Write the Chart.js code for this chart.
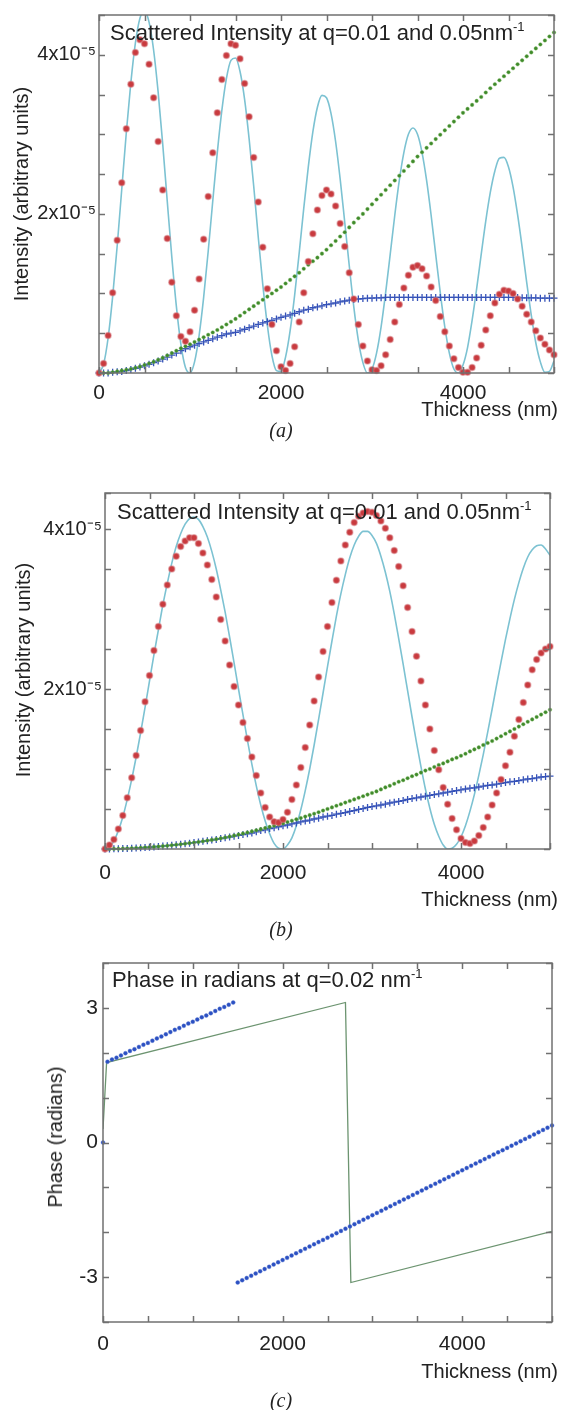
<!DOCTYPE html>
<html>
<head>
<meta charset="utf-8">
<script src="https://cdn.jsdelivr.net/npm/chart.js@4.4.0/dist/chart.umd.min.js"></script>
<style>
  body { margin: 0; background: #fff; width: 562px; height: 1410px; position: relative; overflow: hidden;
         font-family: "Liberation Sans", Arial, sans-serif; color: #222; }
  canvas { position: absolute; left: 0; }
  .t { position: absolute; white-space: nowrap; line-height: 1; }
  .title { font-size: 22px; }
  .title sup { font-size: 13px; vertical-align: 9px; line-height: 0; }
  .xt { font-size: 20px; right: 4px; }
  .yt { font-size: 20px; transform: translate(-50%, -50%) rotate(-90deg); }
  .cap { font-family: "Liberation Serif", "Times New Roman", serif; font-style: italic; font-size: 20px;
         transform: translateX(-50%); }
</style>
</head>
<body>
<canvas id="chartA" width="562" height="440" style="top:0"></canvas>
<canvas id="chartB" width="562" height="480" style="top:460px"></canvas>
<canvas id="chartC" width="562" height="470" style="top:940px"></canvas>

<div class="t title" style="left:110px;top:22px">Scattered Intensity at q=0.01 and 0.05nm<sup>-1</sup></div>
<div class="t yt" style="left:21px;top:194px">Intensity (arbitrary units)</div>
<div class="t xt" style="top:399px">Thickness (nm)</div>
<div class="t cap" style="left:281px;top:420px">(a)</div>

<div class="t title" style="left:117px;top:501px">Scattered Intensity at q=0.01 and 0.05nm<sup>-1</sup></div>
<div class="t yt" style="left:23px;top:670px">Intensity (arbitrary units)</div>
<div class="t xt" style="top:889px">Thickness (nm)</div>
<div class="t cap" style="left:281px;top:919px">(b)</div>

<div class="t title" style="left:112px;top:969px">Phase in radians at q=0.02 nm<sup>-1</sup></div>
<div class="t yt" style="left:55px;top:1137px">Phase (radians)</div>
<div class="t xt" style="top:1361px">Thickness (nm)</div>
<div class="t cap" style="left:281px;top:1390px">(c)</div>

<script>
// thickness in nm, one sample every 50 nm
const thickness = [0,50,100,150,200,250,300,350,400,450,500,550,600,650,700,750,800,850,900,950,
  1000,1050,1100,1150,1200,1250,1300,1350,1400,1450,1500,1550,1600,1650,1700,1750,1800,1850,1900,1950,
  2000,2050,2100,2150,2200,2250,2300,2350,2400,2450,2500,2550,2600,2650,2700,2750,2800,2850,2900,2950,
  3000,3050,3100,3150,3200,3250,3300,3350,3400,3450,3500,3550,3600,3650,3700,3750,3800,3850,3900,3950,
  4000,4050,4100,4150,4200,4250,4300,4350,4400,4450,4500,4550,4600,4650,4700,4750,4800,4850,4900,4950,5000];

// intensities in units of 1e-5
const cyanA = [0,0.11,0.44,0.96,1.60,2.31,3.02,3.65,4.15,4.46,
  4.55,4.41,4.06,3.53,2.88,2.16,1.46,0.84,0.36,0.07,
  0.00,0.14,0.47,0.95,1.53,2.16,2.77,3.30,3.70,3.93,
  3.96,3.79,3.44,2.94,2.35,1.71,1.11,0.60,0.22,0.03,
  0.02,0.20,0.53,0.98,1.51,2.07,2.59,3.03,3.34,3.49,
  3.46,3.26,2.91,2.44,1.90,1.35,0.83,0.41,0.13,0.00,
  0.05,0.25,0.58,1.01,1.49,1.98,2.42,2.77,3.00,3.08,
  3.00,2.77,2.42,1.98,1.49,1.01,0.58,0.25,0.05,0.00,
  0.10,0.32,0.66,1.06,1.49,1.91,2.27,2.54,2.70,2.71,
  2.59,2.34,1.99,1.58,1.14,0.73,0.38,0.14,0.01,0.02,0.15];
const redA = [0,0.12,0.47,1.01,1.67,2.39,3.07,3.63,4.03,4.19,
  4.14,3.88,3.46,2.91,2.30,1.69,1.14,0.72,0.46,0.40,
  0.52,0.79,1.18,1.68,2.22,2.77,3.27,3.69,3.99,4.14,
  4.12,3.95,3.64,3.22,2.71,2.15,1.58,1.06,0.61,0.28,
  0.08,0.03,0.12,0.33,0.64,1.01,1.40,1.75,2.05,2.23,
  2.30,2.25,2.10,1.88,1.59,1.26,0.93,0.61,0.34,0.15,
  0.04,0.03,0.09,0.23,0.42,0.64,0.86,1.07,1.23,1.33,
  1.35,1.31,1.22,1.08,0.91,0.71,0.52,0.34,0.18,0.07,
  0.01,0.01,0.07,0.19,0.35,0.54,0.72,0.88,0.99,1.04,
  1.03,1.00,0.93,0.84,0.74,0.64,0.53,0.44,0.36,0.29,0.23];
const greenA = [0,0.00,0.00,0.01,0.02,0.03,0.04,0.05,0.065,0.08,
  0.10,0.12,0.14,0.165,0.19,0.22,0.25,0.28,0.31,0.335,
  0.36,0.39,0.42,0.45,0.48,0.51,0.54,0.575,0.61,0.645,
  0.68,0.72,0.76,0.80,0.84,0.88,0.92,0.96,1.00,1.04,
  1.08,1.125,1.17,1.215,1.26,1.31,1.36,1.405,1.45,1.50,
  1.55,1.605,1.66,1.715,1.77,1.83,1.89,1.945,2.00,2.06,
  2.12,2.18,2.24,2.30,2.36,2.42,2.48,2.54,2.60,2.66,
  2.72,2.775,2.83,2.885,2.94,2.995,3.05,3.105,3.16,3.215,
  3.27,3.32,3.37,3.42,3.47,3.525,3.58,3.63,3.68,3.73,
  3.78,3.83,3.88,3.93,3.98,4.03,4.08,4.13,4.18,4.23,4.28];
const blueA = [0,0.00,0.00,0.01,0.015,0.02,0.03,0.045,0.06,0.075,
  0.09,0.11,0.13,0.15,0.175,0.20,0.225,0.25,0.28,0.305,
  0.33,0.35,0.37,0.39,0.41,0.43,0.45,0.47,0.49,0.50,
  0.51,0.53,0.55,0.57,0.59,0.61,0.63,0.645,0.66,0.68,
  0.70,0.715,0.73,0.75,0.77,0.79,0.80,0.82,0.83,0.845,
  0.86,0.87,0.88,0.895,0.905,0.915,0.925,0.93,0.935,0.94,
  0.94,0.945,0.945,0.95,0.95,0.95,0.95,0.95,0.95,0.95,
  0.95,0.95,0.95,0.95,0.95,0.95,0.95,0.95,0.95,0.95,
  0.95,0.95,0.95,0.95,0.95,0.95,0.95,0.95,0.95,0.95,
  0.95,0.95,0.95,0.945,0.945,0.945,0.945,0.94,0.94,0.94,0.94];

const cyanB = [0,0.03,0.10,0.23,0.40,0.62,0.87,1.15,1.45,1.77,
  2.10,2.43,2.74,3.05,3.32,3.57,3.78,3.94,4.06,4.13,
  4.15,4.12,4.03,3.90,3.72,3.50,3.24,2.96,2.65,2.33,
  2.00,1.68,1.36,1.06,0.79,0.55,0.35,0.19,0.07,0.01,
  0.00,0.05,0.14,0.29,0.49,0.73,1.00,1.30,1.62,1.95,
  2.28,2.60,2.91,3.19,3.43,3.64,3.80,3.91,3.97,3.97,
  3.92,3.82,3.66,3.46,3.22,2.94,2.63,2.31,1.98,1.65,
  1.33,1.03,0.75,0.51,0.31,0.16,0.05,0.00,0.01,0.06,
  0.15,0.29,0.47,0.68,0.92,1.18,1.46,1.75,2.05,2.34,
  2.62,2.88,3.12,3.33,3.51,3.65,3.74,3.79,3.80,3.75,3.67];
const redB = [0,0.05,0.12,0.25,0.42,0.64,0.89,1.17,1.48,1.84,
  2.17,2.48,2.78,3.06,3.30,3.50,3.66,3.78,3.85,3.89,
  3.89,3.82,3.70,3.55,3.37,3.15,2.87,2.60,2.30,2.03,
  1.80,1.58,1.38,1.15,0.92,0.70,0.52,0.40,0.34,0.33,
  0.37,0.46,0.62,0.80,1.02,1.27,1.55,1.85,2.15,2.47,
  2.78,3.08,3.36,3.60,3.80,3.96,4.08,4.16,4.20,4.22,
  4.21,4.17,4.10,4.01,3.89,3.73,3.53,3.29,3.02,2.72,
  2.41,2.10,1.80,1.50,1.23,0.99,0.77,0.56,0.38,0.24,
  0.13,0.08,0.07,0.10,0.17,0.27,0.40,0.55,0.70,0.87,
  1.04,1.21,1.41,1.62,1.83,2.05,2.24,2.37,2.45,2.50,2.53];
const greenB = [0,0.001,0.002,0.003,0.005,0.007,0.009,0.012,0.015,0.019,
  0.022,0.026,0.031,0.036,0.041,0.047,0.053,0.059,0.066,0.073,
  0.08,0.088,0.096,0.105,0.114,0.123,0.133,0.144,0.155,0.167,
  0.18,0.193,0.206,0.22,0.234,0.248,0.262,0.276,0.29,0.305,
  0.32,0.337,0.354,0.371,0.388,0.405,0.423,0.441,0.46,0.48,
  0.50,0.52,0.54,0.56,0.58,0.60,0.62,0.64,0.66,0.68,
  0.70,0.72,0.745,0.77,0.79,0.815,0.84,0.86,0.885,0.91,
  0.93,0.955,0.98,1.00,1.025,1.05,1.07,1.095,1.12,1.14,
  1.165,1.19,1.22,1.245,1.27,1.30,1.325,1.35,1.38,1.41,
  1.44,1.47,1.50,1.53,1.56,1.59,1.62,1.65,1.68,1.71,1.74];
const blueB = [0,0.001,0.002,0.003,0.005,0.007,0.009,0.012,0.015,0.019,
  0.022,0.026,0.031,0.036,0.041,0.047,0.053,0.059,0.066,0.073,
  0.08,0.088,0.096,0.104,0.112,0.12,0.13,0.14,0.15,0.16,
  0.17,0.18,0.19,0.20,0.215,0.23,0.24,0.255,0.265,0.278,
  0.29,0.30,0.315,0.325,0.34,0.35,0.36,0.375,0.385,0.40,
  0.41,0.42,0.435,0.445,0.455,0.47,0.48,0.495,0.505,0.52,
  0.53,0.54,0.55,0.56,0.575,0.585,0.595,0.605,0.62,0.63,
  0.64,0.65,0.66,0.67,0.68,0.69,0.70,0.71,0.72,0.73,
  0.74,0.75,0.76,0.765,0.775,0.785,0.795,0.80,0.81,0.82,
  0.83,0.84,0.845,0.855,0.865,0.875,0.88,0.89,0.90,0.905,0.91];

// phase in radians
const phaseBlue = [0,1.80,1.85,1.89,1.94,1.99,2.04,2.08,2.13,2.18,
  2.22,2.27,2.32,2.36,2.41,2.46,2.51,2.55,2.60,2.65,
  2.69,2.74,2.79,2.83,2.88,2.93,2.98,3.02,3.07,3.12,
  -3.12,-3.07,-3.02,-2.97,-2.92,-2.87,-2.82,-2.77,-2.72,-2.67,
  -2.62,-2.57,-2.52,-2.47,-2.42,-2.37,-2.32,-2.27,-2.22,-2.17,
  -2.12,-2.07,-2.02,-1.97,-1.92,-1.87,-1.82,-1.77,-1.72,-1.67,
  -1.62,-1.57,-1.52,-1.47,-1.42,-1.37,-1.32,-1.27,-1.22,-1.17,
  -1.12,-1.07,-1.02,-0.97,-0.92,-0.87,-0.82,-0.77,-0.72,-0.67,
  -0.62,-0.57,-0.52,-0.47,-0.42,-0.37,-0.32,-0.27,-0.22,-0.17,
  -0.12,-0.07,-0.02,0.03,0.08,0.13,0.18,0.23,0.28,0.33,0.38];
const phaseGreenX = [0, 40, 2700, 2760, 5000];
const phaseGreenY = [0.3, 1.78, 3.12, -3.12, -1.98];

// tick labels
const xTickLabels = [0, 2000, 4000];
const intensityTicks = [2, 4];
const intensityTickText = ['2x10⁻⁵', '4x10⁻⁵'];
const phaseTicks = [-3, 0, 3];

const FONT = '"Liberation Sans", Arial, sans-serif';

const pts = (xs, ys) => xs.map((x, i) => ({x: x, y: ys[i]}));

// frame and inward tick marks on all four sides
const frameTicks = {
  id: 'frameTicks',
  afterDraw(chart) {
    const {ctx, chartArea: a, scales: {x, y}} = chart;
    ctx.save();
    ctx.strokeStyle = '#707070';
    ctx.lineWidth = 1.5;
    ctx.beginPath();
    x.ticks.forEach(t => {
      const px = Math.round(x.getPixelForValue(t.value)) + 0.5;
      ctx.moveTo(px, a.bottom); ctx.lineTo(px, a.bottom - 6);
      ctx.moveTo(px, a.top); ctx.lineTo(px, a.top + 6);
    });
    y.ticks.forEach(t => {
      const py = Math.round(y.getPixelForValue(t.value)) + 0.5;
      ctx.moveTo(a.left, py); ctx.lineTo(a.left + 6, py);
      ctx.moveTo(a.right, py); ctx.lineTo(a.right - 6, py);
    });
    ctx.stroke();
    ctx.strokeRect(a.left, a.top, a.right - a.left, a.bottom - a.top);
    ctx.restore();
  }
};

function lineSet(data, color, width, smooth, order) {
  return {data: data, showLine: true, borderColor: color, borderWidth: width, pointRadius: 0,
          cubicInterpolationMode: smooth ? 'monotone' : 'default', tension: 0, order: order};
}

function dotSet(data, opts) {
  return Object.assign({data: data, showLine: false, clip: false, pointHoverRadius: 0}, opts);
}

function panel(id, datasets, box, yScale) {
  new Chart(document.getElementById(id), {
    type: 'scatter',
    data: {datasets: datasets},
    options: {
      responsive: false,
      animation: false,
      devicePixelRatio: 1,
      events: [],
      layout: {padding: {top: box.top, right: box.right, left: 0, bottom: 0}},
      plugins: {legend: {display: false}, tooltip: {enabled: false}},
      scales: {
        x: {
          type: 'linear', min: 0, max: 5000,
          grid: {display: false, drawTicks: false}, border: {display: false},
          ticks: {stepSize: 500, autoSkip: false, maxRotation: 0, padding: box.xPad, color: '#222',
                  font: {family: FONT, size: 21},
                  callback: v => xTickLabels.includes(v) ? String(v) : ''},
          afterFit: s => { s.height = box.xHeight; }
        },
        y: Object.assign({
          type: 'linear',
          grid: {display: false, drawTicks: false}, border: {display: false},
          afterFit: s => { s.width = box.left; }
        }, yScale)
      }
    },
    plugins: [frameTicks]
  });
}

const red = {pointRadius: 3, pointBackgroundColor: '#c93a3e', pointBorderColor: 'rgba(214,120,125,0.5)', pointBorderWidth: 1.5, order: 1};
const green = {pointRadius: 1.8, pointBackgroundColor: '#3f8a2c', pointBorderColor: 'rgba(120,180,90,0.5)', pointBorderWidth: 0.8, order: 2};
const blue = {pointStyle: 'cross', pointRadius: 3.5, pointBorderColor: '#3552b8', pointBorderWidth: 1.3, order: 3};

function intensityAxis(max) {
  return {
    min: 0, max: max,
    ticks: {stepSize: 0.5, autoSkip: false, padding: 3, color: '#222', font: {family: FONT, size: 20},
            callback: v => {
              const i = intensityTicks.findIndex(t => Math.abs(t - v) < 1e-6);
              return i >= 0 ? intensityTickText[i] : '';
            }}
  };
}

panel('chartA', [
  dotSet(pts(thickness, redA), red),
  dotSet(pts(thickness, greenA), green),
  dotSet(pts(thickness, blueA), blue),
  lineSet(pts(thickness, cyanA), '#7cc2d2', 1.6, true, 4)
], {top: 13, right: 4, left: 99, xHeight: 67, xPad: 8}, intensityAxis(4.5));

panel('chartB', [
  dotSet(pts(thickness, redB), red),
  dotSet(pts(thickness, greenB), green),
  dotSet(pts(thickness, blueB), blue),
  lineSet(pts(thickness, cyanB), '#7cc2d2', 1.6, true, 4)
], {top: 33, right: 5, left: 105, xHeight: 91, xPad: 12}, intensityAxis(4.45));

panel('chartC', [
  dotSet(pts(thickness, phaseBlue), {pointRadius: 2, pointBackgroundColor: '#2b50c2', pointBorderColor: 'rgba(90,120,210,0.5)', pointBorderWidth: 0.8, order: 1}),
  lineSet(pts(phaseGreenX, phaseGreenY), '#6c9470', 1.3, false, 2)
], {top: 23, right: 5, left: 103, xHeight: 88, xPad: 10}, {
  min: -4, max: 4,
  ticks: {stepSize: 1, autoSkip: false, padding: 5, color: '#222', font: {family: FONT, size: 21},
          callback: v => phaseTicks.includes(v) ? String(v) : ''}
});
</script>
</body>
</html>
